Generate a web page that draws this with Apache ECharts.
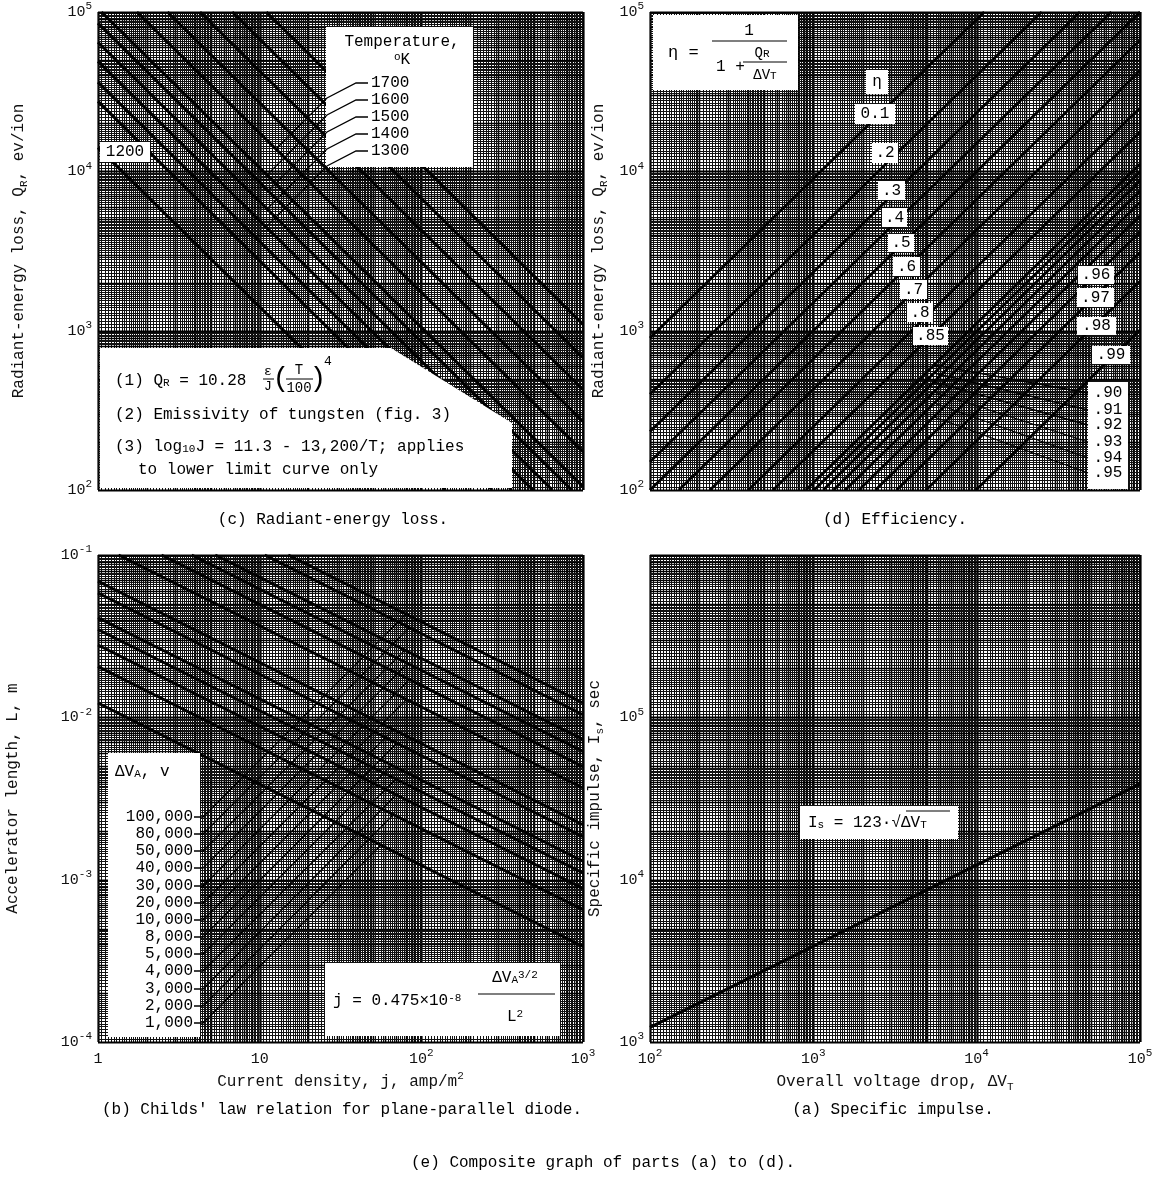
<!DOCTYPE html>
<html>
<head>
<meta charset="utf-8">
<script src="https://cdn.jsdelivr.net/npm/echarts@6/dist/echarts.min.js"></script>
<style>
  html, body { margin: 0; padding: 0; background: #fff; }
  #main { width: 1159px; height: 1186px; }
</style>
</head>
<body>
<div id="main"></div>
<script>
/* (c) 辐射能量损失 Q_R 与电流密度 j，每条线起点/终点 [j, Q_R] */
var radStart = [[1, 14100], [1, 27500], [1, 36300], [1, 49000], [1, 64600], [1, 85100],
  [1.05, 100000], [1.74, 100000], [2.69, 100000], [4.27, 100000], [6.76, 100000], [11.0, 100000]];
var radEnd = [[141, 100], [275, 100], [363, 100], [490, 100], [646, 100], [851, 100],
  [1000, 105], [1000, 174], [1000, 269], [1000, 427], [1000, 676], [1000, 1096]];
var tempLabels = ['1700', '1600', '1500', '1400', '1300'];

/* (d) 效率 η，起点/终点 [ΔV_T, Q_R] */
var etaNames = ['0.1', '.2', '.3', '.4', '.5', '.6', '.7', '.8', '.85', '.90', '.91', '.92', '.93', '.94', '.95', '.96', '.97', '.98', '.99'];
var etaStart = [[100, 900], [100, 400], [100, 233], [100, 150], [100, 100], [150, 100], [233, 100], [400, 100], [567, 100],
  [900, 100], [1011, 100], [1150, 100], [1329, 100], [1567, 100], [1900, 100], [2400, 100], [3233, 100], [4900, 100], [9900, 100]];
var etaEnd = [[11111, 100000], [25000, 100000], [42857, 100000], [66667, 100000], [100000, 100000], [100000, 66667],
  [100000, 42857], [100000, 25000], [100000, 17647], [100000, 11111], [100000, 9890], [100000, 8696], [100000, 7527],
  [100000, 6383], [100000, 5263], [100000, 4167], [100000, 3093], [100000, 2041], [100000, 1010]];

/* (b) Child 定律，起点/终点 [j, L] */
var accelVolts = ['100,000', '80,000', '50,000', '40,000', '30,000', '20,000', '10,000', '8,000', '5,000', '4,000', '3,000', '2,000', '1,000'];
var accelStart = [[15.02, 0.1], [10.75, 0.1], [5.31, 0.1], [3.80, 0.1], [2.47, 0.1], [1.34, 0.1], [1, 0.0689], [1, 0.0583],
  [1, 0.0410], [1, 0.0347], [1, 0.0279], [1, 0.0206], [1, 0.01226]];
var accelEnd = [[1000, 0.01226], [1000, 0.01037], [1000, 0.00729], [1000, 0.00617], [1000, 0.00497], [1000, 0.00367],
  [1000, 0.00218], [1000, 0.00184], [1000, 0.00130], [1000, 0.00110], [1000, 0.000883], [1000, 0.000652], [1000, 0.000388]];

/* (a) 比冲 */
var impulseDrop = [100, 100000];
var impulseIs = [1230, 38900];

var F = '"Liberation Mono", "DejaVu Sans Mono", monospace';
var RICH = {
  s: { fontFamily: F, fontSize: 11, verticalAlign: 'top', lineHeight: 12 },
  b: { fontFamily: F, fontSize: 11, verticalAlign: 'bottom', lineHeight: 12 }
};

/* 坐标纸 */
var PAPER_STEPS = [];
(function () {
  var m;
  for (m = 100; m < 200; m += 5) PAPER_STEPS.push(m / 100);
  for (m = 20; m < 50; m += 1) PAPER_STEPS.push(m / 10);
  for (m = 50; m < 100; m += 2) PAPER_STEPS.push(m / 10);
})();

function paperValues(e) {
  var out = [];
  for (var d = e[0]; d < e[1]; d++) {
    var base = Math.pow(10, d);
    PAPER_STEPS.forEach(function (m) {
      out.push([m * base, m === 1 ? 2 : (Math.abs(m - Math.round(m)) < 1e-9 ? 1 : 0)]);
    });
  }
  out.push([Math.pow(10, e[1]), 2]);
  return out;
}

function paperSeries(idx, xe, ye) {
  var data = [];
  var xmin = Math.pow(10, xe[0]), ymin = Math.pow(10, ye[0]);
  paperValues(xe).forEach(function (p) { data.push([p[0], ymin, 0, p[1]]); });
  paperValues(ye).forEach(function (p) { data.push([xmin, p[0], 1, p[1]]); });
  return {
    type: 'custom', xAxisIndex: idx, yAxisIndex: idx, silent: true, z: 1, animation: false,
    data: data,
    renderItem: function (params, api) {
      var cs = params.coordSys;
      var pt = api.coord([api.value(0), api.value(1)]);
      var w = api.value(3);
      var st = {
        stroke: w === 0 ? '#111' : '#000',
        lineWidth: w === 2 ? 2.2 : (w === 1 ? 1.6 : 1)
      };
      if (api.value(2) === 0) {
        var x = Math.round(pt[0]) + 0.5;
        return { type: 'line', shape: { x1: x, y1: cs.y, x2: x, y2: cs.y + cs.height }, style: st };
      }
      var y = Math.round(pt[1]) + 0.5;
      return { type: 'line', shape: { x1: cs.x, y1: y, x2: cs.x + cs.width, y2: y }, style: st };
    }
  };
}

function lineSeries(idx, a, b, width) {
  return {
    type: 'line', xAxisIndex: idx, yAxisIndex: idx, data: [a, b], symbol: 'none',
    silent: true, animation: false, z: 3, lineStyle: { color: '#000', width: width }
  };
}

function powLabel(v) {
  var e = Math.round(Math.log(v) / Math.LN10);
  return '10{s|' + e + '}';
}

function logAxis(idx, min, max, labels, name, gap) {
  return {
    type: 'log', logBase: 10, gridIndex: idx, min: min, max: max,
    axisLine: { show: false }, axisTick: { show: false }, splitLine: { show: false },
    axisLabel: {
      show: !!labels, formatter: labels || powLabel, fontFamily: F, fontSize: 15, color: '#111',
      lineHeight: 22, margin: 6, rich: RICH
    },
    name: name || '', nameLocation: 'middle', nameGap: gap || 0,
    nameTextStyle: { fontFamily: F, fontSize: 16, color: '#111', lineHeight: 22, rich: RICH }
  };
}

var series = [
  paperSeries(0, [0, 3], [2, 5]),
  paperSeries(1, [2, 5], [2, 5]),
  paperSeries(2, [0, 3], [-4, -1]),
  paperSeries(3, [2, 5], [3, 6])
];
radStart.forEach(function (s, i) { series.push(lineSeries(0, s, radEnd[i], 3)); });
etaStart.forEach(function (s, i) { series.push(lineSeries(1, s, etaEnd[i], 2.6)); });
accelStart.forEach(function (s, i) { series.push(lineSeries(2, s, accelEnd[i], 2.8)); });
series.push(lineSeries(3, [impulseDrop[0], impulseIs[0]], [impulseDrop[1], impulseIs[1]], 3));

/* 注释框和文字 */
var g = [];
function box(x, y, w, h) {
  g.push({ type: 'rect', z: 100, shape: { x: x, y: y, width: w, height: h }, style: { fill: '#fff' } });
}
function txt(x, y, t, align, size) {
  g.push({
    type: 'text', z: 102, x: x, y: y,
    style: { text: t, fill: '#000', fontFamily: F, fontSize: size || 16, align: align || 'left', verticalAlign: 'middle', rich: RICH }
  });
}
function poly(points, w) {
  g.push({ type: 'polyline', z: 101, shape: { points: points }, style: { stroke: '#000', lineWidth: w || 1.3, fill: null } });
}
function tag(x, y, w, h, t) {
  box(x, y, w, h);
  txt(x + w / 2, y + h / 2, t, 'center');
}

// (c)
g.push({ type: 'polygon', z: 100, shape: { points: [[100, 348], [391, 348], [512, 423], [512, 488], [100, 488]] }, style: { fill: '#fff' } });
txt(115, 381, '(1) Q{b|R} = 10.28');
txt(268, 372, 'ε', 'center', 13);
txt(268, 387, 'J', 'center', 13);
poly([[263, 379], [274, 379]], 1);
txt(281, 379, '(', 'center', 28);
txt(299, 370, 'T', 'center', 14);
poly([[286, 379], [313, 379]], 1);
txt(299, 388, '100', 'center', 14);
txt(318, 379, ')', 'center', 28);
txt(324, 362, '4', 'left', 13);
txt(115, 415, '(2) Emissivity of tungsten (fig. 3)');
txt(115, 447, '(3) log{b|10}J = 11.3 - 13,200/T; applies');
txt(138, 470, 'to lower limit curve only');

box(326, 27, 147, 140);
txt(402, 42, 'Temperature,', 'center');
txt(402, 60, '{s|o}K', 'center');
var tempEnds = [[276, 149], [267, 175], [268, 191], [267, 209], [266, 227]];
tempLabels.forEach(function (t, k) {
  var y = 83 + 17 * k;
  txt(371, y, t);
  poly([[368, y], [356, y], [327, y + 15], tempEnds[k]], 1.3);
});
tag(100, 142, 50, 20, '1200');

// (d)
box(653, 15, 145, 75);
txt(668, 52, 'η =', 'left', 17);
txt(749, 31, '1', 'center');
poly([[712, 41], [787, 41]], 1.2);
txt(716, 67, '1 +');
txt(762, 53, 'Q{b|R}', 'center', 14);
poly([[743, 62], [787, 62]], 1);
txt(765, 75, 'ΔV{b|T}', 'center', 14);

var etaTagBoxes = [[855, 104, 40, 20], [872, 143, 26, 20], [878, 181, 27, 19], [882, 208, 25, 19], [888, 234, 26, 18],
  [893, 257, 27, 19], [900, 280, 27, 19], [907, 303, 26, 19], [913, 327, 35, 18]];
tag(866, 70, 22, 24, 'η');
etaTagBoxes.forEach(function (b, i) { tag(b[0], b[1], b[2], b[3], etaNames[i]); });
tag(1078, 266, 36, 18, etaNames[15]);
tag(1077, 288, 37, 19, etaNames[16]);
tag(1077, 317, 39, 18, etaNames[17]);
tag(1092, 346, 38, 18, etaNames[18]);
box(1088, 382, 40, 107);
var etaLeadStart = [[934, 365], [934, 373], [934, 382], [934, 392], [934, 403], [934, 417]];
[393, 410, 425, 442, 458, 473].forEach(function (y, i) {
  txt(1108, y, etaNames[9 + i], 'center');
  poly([etaLeadStart[i], [1088, y]], 1.3);
});

// (b)
box(108, 753, 92, 284);
txt(115, 772, 'ΔV{b|A}, v');
var accelLeadEnd = [[406, 614], [410, 627], [405, 650], [408, 663], [410, 679], [407, 699], [394, 729],
  [397, 743], [392, 765], [396, 779], [397, 794], [394, 814], [381, 845]];
accelVolts.forEach(function (t, k) {
  var y = Math.round(817 + 17.15 * k);
  txt(193, y, t, 'right');
  poly([[194, y], [203, y], accelLeadEnd[k]], 1.3);
});
box(325, 963, 235, 73);
txt(333, 1001, 'j = 0.475×10{s|-8}');
txt(515, 978, 'ΔV{b|A}{s|3/2}', 'center');
poly([[478, 994], [555, 994]], 1.2);
txt(515, 1017, 'L{s|2}', 'center');

// (a)
box(800, 806, 158, 33);
txt(808, 823, 'I{b|s} = 123·√ΔV{b|T}');
poly([[906, 811], [950, 811]], 1.2);

// 标题
txt(333, 520, '(c) Radiant-energy loss.', 'center');
txt(895, 520, '(d) Efficiency.', 'center');
txt(342, 1110, '(b) Childs\' law relation for plane-parallel diode.', 'center');
txt(893, 1110, '(a) Specific impulse.', 'center');
txt(603, 1163, '(e) Composite graph of parts (a) to (d).', 'center');

var chart = echarts.init(document.getElementById('main'));
var option = {
  animation: false,
  backgroundColor: '#fff',
  grid: [
    { left: 98, top: 12, width: 485, height: 478 },
    { left: 650, top: 12, width: 490, height: 478 },
    { left: 98, top: 555, width: 485, height: 487 },
    { left: 650, top: 555, width: 490, height: 487 }
  ],
  xAxis: [
    logAxis(0, 1, 1000, null),
    logAxis(1, 100, 100000, null),
    logAxis(2, 1, 1000, function (v) { return v < 50 ? String(Math.round(v)) : powLabel(v); },
      'Current density, j, amp/m{s|2}', 26),
    logAxis(3, 100, 100000, powLabel, 'Overall voltage drop, ΔV{b|T}', 26)
  ],
  yAxis: [
    logAxis(0, 100, 100000, powLabel, 'Radiant-energy loss, Q{b|R}, ev/ion', 68),
    logAxis(1, 100, 100000, powLabel, 'Radiant-energy loss, Q{b|R}, ev/ion', 40),
    logAxis(2, 0.0001, 0.1, powLabel, 'Accelerator length, L, m', 74),
    logAxis(3, 1000, 1000000, function (v) { return v > 500000 ? '' : powLabel(v); }, 'Specific impulse, I{b|s}, sec', 44)
  ],
  series: series,
  graphic: g
};
chart.setOption(option);
</script>
</body>
</html>
